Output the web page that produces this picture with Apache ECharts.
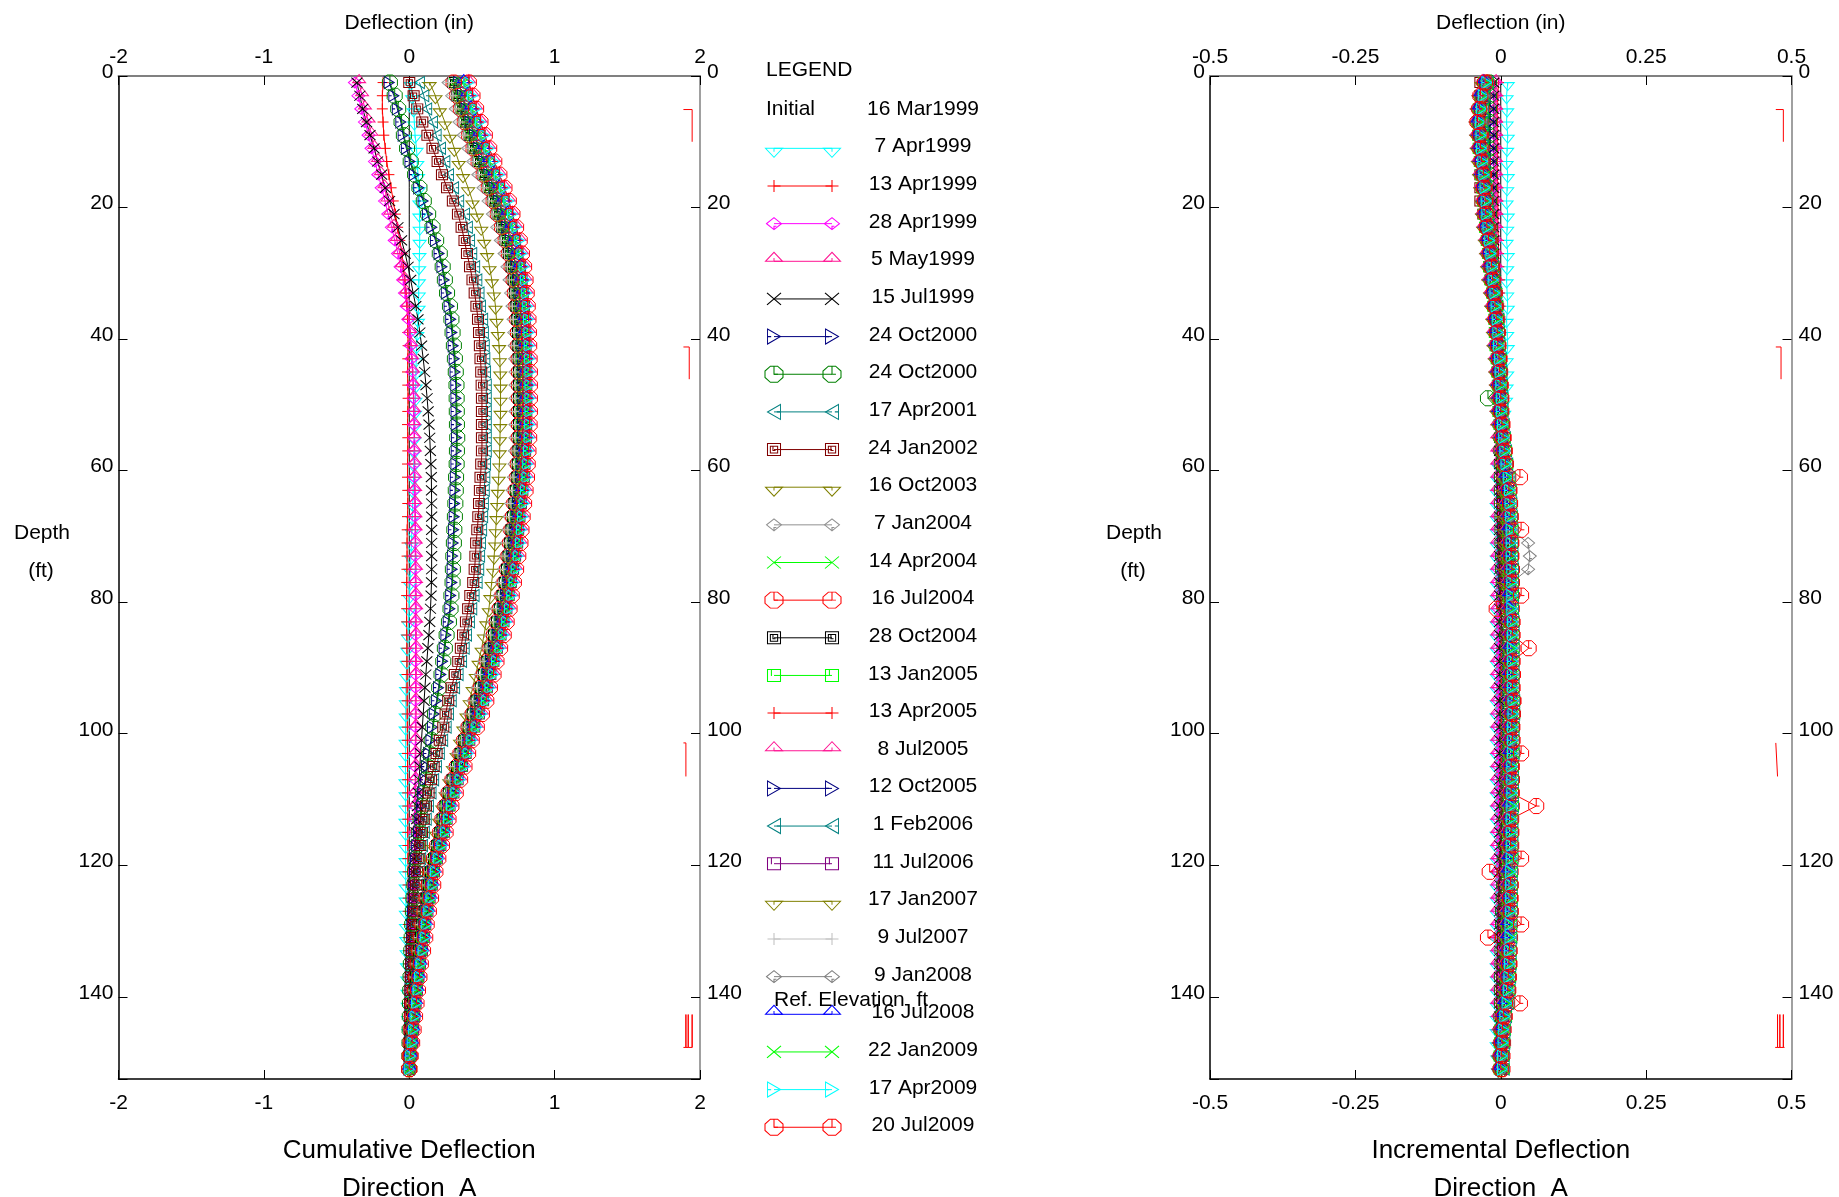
<!DOCTYPE html>
<html><head><meta charset="utf-8">
<script src="https://cdn.jsdelivr.net/npm/echarts@6/dist/echarts.min.js"></script>
<style>html,body{margin:0;padding:0;background:#fff}#c{width:1839px;height:1197px}</style>
</head><body><div id="c"></div>
<script>
// ---------------- DATA ----------------
const depths = [1,3,5,7,9,11,13,15,17,19,
21,23,25,27,29,31,33,35,37,39,
41,43,45,47,49,51,53,55,57,59,
61,63,65,67,69,71,73,75,77,79,
81,83,85,87,89,91,93,95,97,99,
101,103,105,107,109,111,113,115,117,119,
121,123,125,127,129,131,133,135,137,139,
141,143,145,147,149,151];

const initialValues = [0,0,0,0,0,0,0,0,0,0,
0,0,0,0,0,0,0,0,0,0,
0,0,0,0,0,0,0,0,0,0,
0,0,0,0,0,0,0,0,0,0,
0,0,0,0,0,0,0,0,0,0,
0,0,0,0,0,0,0,0,0,0,
0,0,0,0,0,0,0,0,0,0,
0,0,0,0,0,0];

// Cumulative deflection (in)
const cum7Apr1999 = [0.01,0.02,0.03,0.035,0.04,0.05,0.055,0.06,0.065,0.07,
0.07,0.072,0.072,0.07,0.068,0.066,0.065,0.064,0.06,0.055,
0.05,0.048,0.046,0.044,0.042,0.04,0.038,0.036,0.034,0.032,
0.03,0.027,0.024,0.021,0.018,0.015,0.012,0.008,0.005,0.002,
0,-0.005,-0.01,-0.013,-0.017,-0.02,-0.022,-0.023,-0.024,-0.025,
-0.025,-0.025,-0.026,-0.026,-0.025,-0.025,-0.026,-0.025,-0.025,-0.025,
-0.025,-0.024,-0.024,-0.023,-0.022,-0.02,-0.018,-0.016,-0.014,-0.012,
-0.01,-0.008,-0.006,-0.004,-0.002,0];
const cum13Apr1999 = [-0.18,-0.185,-0.185,-0.18,-0.175,-0.165,-0.155,-0.14,-0.125,-0.11,
-0.095,-0.08,-0.065,-0.05,-0.04,-0.03,-0.022,-0.016,-0.012,-0.01,
-0.008,-0.01,-0.012,-0.01,-0.008,-0.01,-0.012,-0.01,-0.01,-0.012,
-0.012,-0.01,-0.01,-0.012,-0.014,-0.015,-0.015,-0.016,-0.017,-0.018,
-0.018,-0.018,-0.017,-0.016,-0.016,-0.015,-0.015,-0.014,-0.014,-0.013,
-0.013,-0.012,-0.012,-0.011,-0.011,-0.01,-0.01,-0.01,-0.009,-0.009,
-0.008,-0.008,-0.007,-0.007,-0.006,-0.006,-0.005,-0.005,-0.004,-0.004,
-0.003,-0.003,-0.002,-0.002,-0.001,0];
const cum28Apr1999 = [-0.374,-0.35,-0.33,-0.305,-0.28,-0.26,-0.236,-0.213,-0.19,-0.167,
-0.145,-0.12,-0.1,-0.078,-0.06,-0.042,-0.03,-0.018,-0.007,0.003,
0.01,0.016,0.022,0.026,0.029,0.03,0.032,0.033,0.034,0.035,
0.036,0.037,0.038,0.039,0.04,0.04,0.041,0.041,0.042,0.042,
0.042,0.042,0.043,0.043,0.043,0.043,0.043,0.042,0.042,0.042,
0.042,0.041,0.041,0.041,0.04,0.04,0.04,0.039,0.039,0.038,
0.038,0.036,0.034,0.032,0.03,0.027,0.024,0.021,0.018,0.015,
0.012,0.01,0.007,0.005,0.002,0];
const cum5May1999 = [-0.345,-0.325,-0.305,-0.28,-0.26,-0.24,-0.215,-0.195,-0.17,-0.15,
-0.13,-0.105,-0.085,-0.065,-0.05,-0.032,-0.02,-0.01,0,0.008,
0.014,0.02,0.025,0.028,0.031,0.033,0.035,0.036,0.037,0.038,
0.039,0.04,0.041,0.042,0.043,0.044,0.045,0.046,0.046,0.047,
0.047,0.047,0.048,0.048,0.048,0.048,0.047,0.047,0.047,0.046,
0.046,0.045,0.045,0.044,0.044,0.043,0.043,0.042,0.041,0.04,
0.039,0.037,0.035,0.033,0.031,0.028,0.025,0.022,0.019,0.016,
0.013,0.01,0.008,0.005,0.002,0];
const cum15Jul1999 = [-0.36,-0.34,-0.32,-0.294,-0.27,-0.242,-0.218,-0.19,-0.165,-0.135,
-0.105,-0.078,-0.053,-0.028,-0.008,0.01,0.027,0.045,0.06,0.073,
0.085,0.096,0.106,0.115,0.123,0.13,0.136,0.141,0.145,0.149,
0.152,0.153,0.154,0.154,0.154,0.154,0.154,0.154,0.153,0.15,
0.146,0.141,0.135,0.128,0.121,0.114,0.108,0.102,0.096,0.09,
0.084,0.078,0.073,0.068,0.062,0.056,0.051,0.046,0.04,0.034,
0.029,0.024,0.019,0.015,0.011,0.008,0.006,0.004,0.003,0.002,
0.002,0.001,0.001,0,0,0];
const cum24Oct2000a = [-0.138,-0.106,-0.082,-0.058,-0.042,-0.02,0.005,0.034,0.065,0.095,
0.125,0.155,0.18,0.205,0.225,0.24,0.255,0.274,0.285,0.293,
0.302,0.309,0.315,0.32,0.321,0.322,0.323,0.325,0.323,0.321,
0.317,0.315,0.312,0.309,0.305,0.302,0.298,0.295,0.293,0.285,
0.279,0.268,0.252,0.24,0.229,0.217,0.201,0.188,0.172,0.16,
0.149,0.133,0.119,0.11,0.092,0.085,0.073,0.064,0.051,0.044,
0.036,0.031,0.027,0.022,0.018,0.015,0.012,0.009,0.007,0.005,
0.004,0.003,0.002,0.001,0,0];
const cum24Oct2000b = [-0.133,-0.1,-0.076,-0.053,-0.037,-0.015,0.01,0.04,0.07,0.1,
0.13,0.16,0.185,0.21,0.23,0.245,0.26,0.28,0.29,0.298,
0.307,0.314,0.32,0.325,0.326,0.327,0.328,0.33,0.328,0.326,
0.322,0.32,0.317,0.314,0.31,0.307,0.303,0.3,0.298,0.29,
0.284,0.273,0.257,0.245,0.234,0.222,0.206,0.193,0.177,0.165,
0.154,0.138,0.124,0.115,0.096,0.09,0.078,0.069,0.055,0.048,
0.04,0.035,0.03,0.025,0.02,0.017,0.014,0.011,0.009,0.007,
0.005,0.004,0.003,0.002,0.001,0];
const cum17Apr2001 = [0.07,0.1,0.12,0.16,0.185,0.215,0.245,0.27,0.305,0.34,
0.38,0.4,0.415,0.43,0.45,0.465,0.48,0.49,0.505,0.51,
0.516,0.52,0.525,0.53,0.53,0.53,0.53,0.53,0.53,0.525,
0.52,0.516,0.51,0.505,0.498,0.49,0.484,0.478,0.467,0.446,
0.43,0.414,0.394,0.378,0.36,0.336,0.312,0.289,0.27,0.254,
0.23,0.207,0.187,0.168,0.15,0.132,0.117,0.104,0.091,0.079,
0.07,0.06,0.052,0.045,0.038,0.032,0.026,0.021,0.017,0.013,
0.01,0.007,0.005,0.003,0.001,0];
const cum24Jan2002 = [0,0.03,0.055,0.09,0.125,0.16,0.195,0.225,0.26,0.3,
0.335,0.36,0.38,0.397,0.418,0.435,0.45,0.462,0.473,0.48,
0.486,0.49,0.495,0.498,0.5,0.5,0.5,0.5,0.5,0.495,
0.49,0.486,0.48,0.475,0.468,0.46,0.455,0.45,0.44,0.42,
0.405,0.39,0.37,0.355,0.337,0.314,0.29,0.268,0.25,0.234,
0.21,0.188,0.168,0.15,0.133,0.115,0.1,0.088,0.076,0.065,
0.055,0.047,0.04,0.034,0.028,0.023,0.018,0.014,0.011,0.008,
0.006,0.004,0.003,0.002,0.001,0];
const cum16Oct2003 = [0.14,0.18,0.21,0.245,0.28,0.31,0.34,0.37,0.405,0.435,
0.465,0.495,0.515,0.535,0.552,0.568,0.582,0.593,0.6,0.61,
0.618,0.623,0.626,0.628,0.628,0.628,0.626,0.624,0.622,0.62,
0.615,0.61,0.605,0.6,0.595,0.59,0.584,0.578,0.567,0.558,
0.548,0.53,0.514,0.498,0.477,0.458,0.436,0.416,0.394,0.372,
0.35,0.326,0.3,0.275,0.25,0.227,0.205,0.185,0.165,0.145,
0.128,0.113,0.1,0.087,0.075,0.064,0.054,0.045,0.037,0.03,
0.024,0.018,0.013,0.008,0.004,0];
// later readings (2004-2009) form a tight bundle; read as five traces across it
const cumBundleL = [0.27,0.295,0.32,0.345,0.375,0.405,0.44,0.475,0.51,0.545,
0.575,0.605,0.63,0.655,0.675,0.69,0.7,0.71,0.717,0.722,
0.725,0.728,0.73,0.73,0.73,0.73,0.73,0.73,0.727,0.724,
0.72,0.71,0.7,0.69,0.68,0.67,0.66,0.65,0.635,0.62,
0.6,0.58,0.56,0.535,0.515,0.49,0.47,0.44,0.415,0.39,
0.36,0.335,0.31,0.28,0.255,0.235,0.215,0.2,0.18,0.16,
0.14,0.125,0.11,0.095,0.08,0.07,0.06,0.05,0.04,0.03,
0.02,0.015,0.01,0.005,0,0];
const cumBundleM1 = [0.305,0.33,0.355,0.382,0.412,0.442,0.477,0.512,0.547,0.58,
0.609,0.638,0.663,0.685,0.704,0.718,0.727,0.737,0.743,0.748,
0.75,0.753,0.755,0.755,0.755,0.755,0.755,0.754,0.751,0.747,
0.743,0.733,0.723,0.713,0.703,0.694,0.683,0.672,0.657,0.642,
0.623,0.603,0.583,0.558,0.537,0.513,0.492,0.463,0.437,0.409,
0.378,0.353,0.328,0.298,0.272,0.249,0.229,0.213,0.192,0.17,
0.15,0.135,0.12,0.105,0.09,0.08,0.069,0.058,0.048,0.038,
0.028,0.022,0.015,0.009,0.003,0];
const cumBundleM2 = [0.34,0.365,0.39,0.418,0.448,0.478,0.513,0.548,0.583,0.615,
0.643,0.67,0.695,0.715,0.733,0.745,0.754,0.763,0.769,0.773,
0.775,0.778,0.78,0.78,0.78,0.78,0.779,0.778,0.774,0.77,
0.765,0.755,0.745,0.735,0.726,0.718,0.705,0.693,0.678,0.663,
0.645,0.625,0.605,0.58,0.558,0.535,0.513,0.485,0.458,0.428,
0.395,0.37,0.345,0.315,0.288,0.263,0.243,0.225,0.203,0.18,
0.16,0.145,0.13,0.115,0.1,0.09,0.078,0.065,0.055,0.045,
0.035,0.028,0.02,0.013,0.005,0];
const cumBundleM3 = [0.375,0.4,0.425,0.454,0.484,0.514,0.549,0.584,0.619,0.65,
0.677,0.703,0.728,0.745,0.762,0.773,0.781,0.789,0.795,0.798,
0.8,0.803,0.805,0.805,0.805,0.805,0.804,0.802,0.797,0.793,
0.788,0.778,0.768,0.758,0.749,0.742,0.728,0.714,0.699,0.684,
0.668,0.648,0.628,0.603,0.579,0.558,0.534,0.508,0.479,0.447,
0.413,0.388,0.363,0.333,0.304,0.277,0.257,0.238,0.214,0.19,
0.17,0.155,0.14,0.125,0.11,0.1,0.087,0.073,0.063,0.053,
0.043,0.034,0.025,0.017,0.008,0];
const cumBundleH = [0.41,0.435,0.46,0.49,0.52,0.55,0.585,0.62,0.655,0.685,
0.71,0.735,0.76,0.775,0.79,0.8,0.808,0.815,0.82,0.823,
0.825,0.828,0.83,0.83,0.83,0.83,0.828,0.825,0.82,0.815,
0.81,0.8,0.79,0.78,0.772,0.765,0.75,0.735,0.72,0.705,
0.69,0.67,0.65,0.625,0.6,0.58,0.555,0.53,0.5,0.465,
0.43,0.405,0.38,0.35,0.32,0.29,0.27,0.25,0.225,0.2,
0.18,0.165,0.15,0.135,0.12,0.11,0.095,0.08,0.07,0.06,
0.05,0.04,0.03,0.02,0.01,0];

// Incremental deflection (in)
const inc7Apr1999 = [0.012,0.01,0.011,0.01,0.012,0.011,0.01,0.012,0.011,0.01,
0.012,0.011,0.01,0.012,0.011,0.01,0.011,0.012,0.01,0.011,
0.012,0.01,0.011,0.01,0.009,0.006,0.003,0,-0.003,-0.005,
-0.006,-0.007,-0.007,-0.007,-0.007,-0.007,-0.007,-0.007,-0.007,-0.007,
-0.007,-0.007,-0.007,-0.007,-0.007,-0.007,-0.007,-0.007,-0.007,-0.007,
-0.007,-0.007,-0.007,-0.007,-0.007,-0.007,-0.007,-0.007,-0.007,-0.007,
-0.007,-0.007,-0.007,-0.007,-0.007,-0.007,-0.007,-0.007,-0.007,-0.007,
-0.007,-0.007,-0.007,-0.007,-0.006,-0.005];
const inc13Apr1999 = [-0.004,-0.005,-0.006,-0.006,-0.006,-0.005,-0.006,-0.006,-0.005,-0.005,
-0.005,-0.005,-0.004,-0.004,-0.003,-0.002,-0.002,-0.001,-0.001,0,
0,0.001,0.001,0.001,0.001,0.001,0.001,0.001,0.001,0.001,
0.001,0.001,0.001,0.001,0.001,0.001,0.001,0.001,0.001,0.001,
0.001,0.001,0.001,0.001,0.001,0.001,0.001,0.001,0.001,0.001,
0.001,0.001,0.001,0.001,0.001,0.001,0.001,0.001,0.001,0.001,
0.001,0.001,0.001,0.001,0.001,0.001,0.001,0.001,0.001,0.001,
0.001,0.001,0.001,0.001,0.001,0];
const inc28Apr1999 = [-0.01,-0.01,-0.01,-0.01,-0.01,-0.01,-0.01,-0.01,-0.01,-0.01,
-0.01,-0.01,-0.01,-0.01,-0.01,-0.01,-0.008,-0.007,-0.007,-0.007,
-0.007,-0.007,-0.007,-0.007,-0.007,-0.005,-0.004,-0.004,-0.004,-0.004,
-0.004,-0.004,-0.004,-0.004,-0.004,-0.004,-0.004,-0.004,-0.004,-0.004,
-0.004,-0.004,-0.004,-0.004,-0.004,-0.004,-0.004,-0.004,-0.004,-0.004,
-0.004,-0.004,-0.004,-0.004,-0.004,-0.004,-0.004,-0.004,-0.004,-0.004,
-0.004,-0.004,-0.004,-0.004,-0.004,-0.004,-0.004,-0.004,-0.004,-0.004,
-0.004,-0.004,-0.003,-0.002,-0.001,0];
const inc5May1999 = [-0.008,-0.008,-0.008,-0.008,-0.008,-0.008,-0.008,-0.008,-0.008,-0.008,
-0.008,-0.008,-0.008,-0.008,-0.008,-0.008,-0.007,-0.006,-0.006,-0.006,
-0.006,-0.006,-0.006,-0.006,-0.006,-0.006,-0.006,-0.006,-0.006,-0.006,
-0.006,-0.006,-0.006,-0.006,-0.006,-0.006,-0.006,-0.006,-0.006,-0.006,
-0.006,-0.006,-0.006,-0.006,-0.006,-0.006,-0.006,-0.006,-0.006,-0.006,
-0.006,-0.006,-0.006,-0.006,-0.006,-0.006,-0.006,-0.006,-0.006,-0.006,
-0.006,-0.006,-0.006,-0.006,-0.006,-0.006,-0.006,-0.006,-0.006,-0.006,
-0.006,-0.005,-0.004,-0.003,-0.002,0];
const inc15Jul1999 = [-0.012,-0.012,-0.012,-0.012,-0.012,-0.012,-0.012,-0.012,-0.012,-0.012,
-0.012,-0.012,-0.012,-0.012,-0.012,-0.009,-0.007,-0.006,-0.005,-0.004,
-0.003,-0.003,-0.003,-0.002,-0.002,-0.002,-0.002,-0.002,-0.002,-0.002,
-0.002,-0.002,-0.002,-0.002,-0.002,-0.002,-0.002,-0.002,-0.002,-0.002,
-0.002,-0.002,-0.002,-0.002,-0.002,-0.002,-0.002,-0.002,-0.002,-0.002,
-0.002,-0.002,-0.002,-0.002,-0.002,-0.002,-0.002,-0.002,-0.002,-0.002,
-0.002,-0.002,-0.002,-0.002,-0.002,-0.002,-0.002,-0.002,-0.002,-0.002,
-0.002,-0.002,-0.001,-0.001,0,0];
const inc24Oct2000a = [-0.018,-0.018,-0.018,-0.018,-0.018,-0.018,-0.018,-0.018,-0.018,-0.018,
-0.018,-0.018,-0.017,-0.016,-0.015,-0.013,-0.011,-0.009,-0.007,-0.006,
-0.005,-0.004,-0.003,-0.002,-0.001,-0.001,0,0.001,0.001,0.002,
0.002,0.002,0.002,0.003,0.003,0.003,0.004,0.004,0.005,0.006,
0.008,0.01,0.011,0.012,0.012,0.012,0.012,0.012,0.012,0.012,
0.012,0.012,0.012,0.011,0.011,0.011,0.01,0.01,0.009,0.008,
0.007,0.006,0.005,0.004,0.004,0.003,0.003,0.003,0.002,0.002,
0.002,0.001,0.001,0.001,0,0];
const inc24Oct2000b = [-0.02,-0.02,-0.02,-0.02,-0.02,-0.02,-0.02,-0.02,-0.02,-0.02,
-0.02,-0.019,-0.018,-0.017,-0.016,-0.014,-0.012,-0.01,-0.008,-0.006,
-0.005,-0.004,-0.003,-0.002,-0.022,-0.001,0,0.001,0.001,0.002,
0.002,0.002,0.002,0.003,0.003,0.003,0.004,0.004,0.005,0.006,
0.008,0.01,0.011,0.012,0.012,0.012,0.012,0.012,0.012,0.012,
0.012,0.012,0.012,0.011,0.011,0.011,0.01,0.01,0.009,0.008,
0.007,0.006,0.005,0.004,0.004,0.003,0.003,0.003,0.002,0.002,
0.002,0.001,0.001,0.001,0,0];
const inc17Apr2001 = [-0.03,-0.03,-0.03,-0.03,-0.03,-0.03,-0.03,-0.03,-0.03,-0.03,
-0.027,-0.024,-0.02,-0.018,-0.017,-0.014,-0.012,-0.01,-0.008,-0.007,
-0.005,-0.004,-0.003,-0.002,-0.001,0,0,0.001,0.001,0.002,
0.003,0.003,0.004,0.004,0.005,0.005,0.006,0.007,0.008,0.009,
0.01,0.011,0.012,0.013,0.014,0.015,0.015,0.016,0.016,0.016,
0.015,0.015,0.014,0.013,0.012,0.011,0.01,0.009,0.008,0.007,
0.007,0.006,0.005,0.005,0.004,0.004,0.003,0.003,0.003,0.002,
0.002,0.001,0.001,0.001,0,0];
const inc24Jan2002 = [-0.035,-0.035,-0.035,-0.035,-0.035,-0.035,-0.035,-0.035,-0.035,-0.035,
-0.03,-0.026,-0.022,-0.02,-0.02,-0.016,-0.013,-0.011,-0.01,-0.01,
-0.006,-0.004,-0.003,-0.002,-0.002,-0.001,0,0,0.001,0.002,
0.003,0.004,0.004,0.004,0.005,0.005,0.006,0.007,0.008,0.009,
0.01,0.011,0.013,0.014,0.015,0.015,0.016,0.016,0.016,0.016,
0.015,0.015,0.014,0.014,0.013,0.012,0.011,0.01,0.009,0.008,
0.007,0.006,0.006,0.005,0.005,0.004,0.004,0.003,0.003,0.002,
0.002,0.001,0.001,0.001,0,0];
const inc16Oct2003 = [-0.033,-0.033,-0.033,-0.033,-0.033,-0.033,-0.033,-0.033,-0.033,-0.033,
-0.025,-0.022,-0.021,-0.02,-0.018,-0.015,-0.012,-0.01,-0.009,-0.008,
-0.004,-0.002,-0.001,0,0,0,0.001,0.001,0.001,0.002,
0.003,0.003,0.004,0.004,0.005,0.005,0.005,0.006,0.006,0.007,
0.012,0.014,0.015,0.016,0.017,0.018,0.018,0.018,0.018,0.018,
0.018,0.018,0.018,0.017,0.017,0.016,0.016,0.015,0.014,0.013,
0.011,0.01,0.009,0.008,0.008,0.007,0.006,0.006,0.005,0.005,
0.004,0.003,0.003,0.002,0.001,0];
const incBundleL = [-0.032,-0.038,-0.041,-0.043,-0.042,-0.041,-0.039,-0.037,-0.035,-0.033,
-0.032,-0.03,-0.027,-0.025,-0.023,-0.021,-0.018,-0.016,-0.014,-0.013,
-0.012,-0.01,-0.009,-0.008,-0.007,-0.007,-0.005,-0.003,-0.001,0.001,
0.005,0.007,0.008,0.009,0.01,0.01,0.01,0.011,0.011,0.011,
0.011,0.012,0.012,0.012,0.012,0.012,0.012,0.013,0.013,0.012,
0.012,0.012,0.011,0.011,0.011,0.011,0.01,0.01,0.01,0.01,
0.009,0.009,0.009,0.009,0.008,0.008,0.007,0.007,0.006,0.005,
0.003,0,-0.002,-0.003,-0.004,-0.004];
const incBundleM1 = [-0.029,-0.035,-0.038,-0.04,-0.039,-0.038,-0.036,-0.034,-0.032,-0.03,
-0.029,-0.027,-0.024,-0.022,-0.02,-0.018,-0.015,-0.013,-0.011,-0.01,
-0.009,-0.007,-0.006,-0.005,-0.004,-0.004,-0.002,0,0.002,0.004,
0.008,0.01,0.011,0.012,0.013,0.013,0.013,0.014,0.014,0.014,
0.014,0.015,0.015,0.015,0.015,0.015,0.015,0.016,0.016,0.015,
0.015,0.015,0.014,0.014,0.014,0.014,0.013,0.013,0.013,0.013,
0.012,0.012,0.012,0.012,0.011,0.011,0.01,0.01,0.009,0.008,
0.006,0.002,0,-0.001,-0.002,-0.002];
const incBundleM2 = [-0.027,-0.033,-0.036,-0.038,-0.037,-0.036,-0.034,-0.032,-0.03,-0.028,
-0.027,-0.025,-0.022,-0.02,-0.018,-0.016,-0.013,-0.011,-0.009,-0.008,
-0.007,-0.005,-0.004,-0.003,-0.002,-0.002,0,0.002,0.004,0.006,
0.01,0.012,0.013,0.014,0.015,0.015,0.015,0.016,0.016,0.016,
0.016,0.017,0.017,0.017,0.017,0.017,0.017,0.018,0.018,0.017,
0.017,0.017,0.016,0.016,0.016,0.016,0.015,0.015,0.015,0.015,
0.014,0.014,0.014,0.014,0.013,0.013,0.012,0.012,0.011,0.01,
0.008,0.004,0.002,0.001,0,0];
const incBundleM3 = [-0.024,-0.03,-0.033,-0.035,-0.034,-0.033,-0.031,-0.029,-0.027,-0.025,
-0.024,-0.022,-0.019,-0.017,-0.015,-0.013,-0.01,-0.008,-0.006,-0.005,
-0.004,-0.002,-0.001,0,0.001,0.001,0.003,0.005,0.007,0.009,
0.013,0.015,0.016,0.017,0.018,0.018,0.018,0.019,0.019,0.019,
0.019,0.02,0.02,0.02,0.02,0.02,0.02,0.021,0.021,0.02,
0.02,0.02,0.019,0.019,0.019,0.019,0.018,0.018,0.018,0.018,
0.017,0.017,0.017,0.017,0.016,0.016,0.015,0.015,0.014,0.013,
0.011,0.007,0.005,0.004,0.003,0.003];
const incBundleH = [-0.021,-0.027,-0.03,-0.032,-0.031,-0.03,-0.028,-0.026,-0.024,-0.022,
-0.021,-0.019,-0.016,-0.014,-0.012,-0.01,-0.007,-0.005,-0.003,-0.002,
-0.001,0.001,0.002,0.003,0.004,0.004,0.006,0.008,0.01,0.012,
0.016,0.018,0.019,0.02,0.021,0.021,0.021,0.022,0.022,0.022,
0.022,0.023,0.023,0.023,0.023,0.023,0.023,0.024,0.024,0.023,
0.023,0.023,0.022,0.022,0.022,0.022,0.021,0.021,0.021,0.021,
0.02,0.02,0.02,0.02,0.019,0.019,0.018,0.018,0.017,0.016,
0.014,0.01,0.008,0.007,0.006,0.006];
const inc9Jan2008 = [-0.024,-0.03,-0.033,-0.035,-0.034,-0.033,-0.031,-0.029,-0.027,-0.025,
-0.024,-0.022,-0.019,-0.017,-0.015,-0.013,-0.01,-0.008,-0.006,-0.005,
-0.004,-0.002,-0.001,0,0.001,0.001,0.003,0.005,0.007,0.009,
0.013,0.015,0.016,0.017,0.018,0.047,0.05,0.047,0.019,0.019,
0.019,0.02,0.02,0.02,0.02,0.02,0.02,0.021,0.021,0.02,
0.02,0.02,0.019,0.019,0.019,0.019,0.018,0.018,0.018,0.018,
0.017,0.017,0.017,0.017,0.016,0.016,0.015,0.015,0.014,0.013,
0.011,0.007,0.005,0.004,0.003,0.003];
const inc20Jul2009 = [-0.027,-0.035,-0.037,-0.04,-0.036,-0.035,-0.033,-0.03,-0.029,-0.027,
-0.026,-0.024,-0.021,-0.019,-0.016,-0.014,-0.012,-0.01,-0.008,-0.006,
-0.005,-0.003,-0.002,-0.001,0,0,0.002,0.004,0.006,0.008,
0.033,0.014,0.016,0.017,0.035,0.018,0.018,0.019,0.019,0.035,
-0.007,0.02,0.02,0.048,0.02,0.021,0.02,0.022,0.02,0.019,
0.02,0.035,0.018,0.019,0.018,0.061,0.017,0.018,0.017,0.035,
-0.019,0.017,0.016,0.017,0.035,-0.022,0.015,0.014,0.013,0.012,
0.033,0.005,0.003,0.002,0.001,0];

// Reference-elevation marks drawn near the right edge of each plot: [deflection, depth]
const refMarksCum = [
  [[1.886,5.1],[1.946,5.1],[1.946,10]],
  [[1.886,41.2],[1.926,41.2],[1.926,46.1]],
  [[1.886,101.4],[1.903,101.4],[1.903,106.5]],
  [[1.886,147.7],[1.903,147.7],[1.903,142.7],[1.903,147.7],[1.919,147.7],[1.919,142.7],[1.919,147.7],[1.946,147.7],[1.946,142.7],[1.946,147.7],[1.95,147.7]]
];
const refMarksInc = [
  [[0.473,5.1],[0.486,5.1],[0.486,10]],
  [[0.473,41.2],[0.482,41.2],[0.482,46.1]],
  [[0.473,101.4],[0.476,101.4],[0.476,106.5]],
  [[0.472,147.7],[0.476,147.7],[0.476,142.7],[0.476,147.7],[0.48,147.7],[0.48,142.7],[0.48,147.7],[0.486,147.7],[0.486,142.7],[0.486,147.7],[0.488,147.7]]
];

const depthTicks = [0,20,40,60,80,100,120,140];

const initialLabel = '16 Mar1999';
const readings = [
 {name:'7 Apr1999',  sym:'triDown',  color:'#00ffff', cum:cum7Apr1999,  inc:inc7Apr1999},
 {name:'13 Apr1999', sym:'plus',     color:'#ff0000', cum:cum13Apr1999, inc:inc13Apr1999},
 {name:'28 Apr1999', sym:'diamond',  color:'#ff00ff', cum:cum28Apr1999, inc:inc28Apr1999},
 {name:'5 May1999',  sym:'triUp',    color:'#ff1493', cum:cum5May1999,  inc:inc5May1999},
 {name:'15 Jul1999', sym:'cross',    color:'#000000', cum:cum15Jul1999, inc:inc15Jul1999},
 {name:'24 Oct2000', sym:'triRight', color:'#000080', cum:cum24Oct2000a, inc:inc24Oct2000a},
 {name:'24 Oct2000', sym:'octagon',  color:'#008000', cum:cum24Oct2000b, inc:inc24Oct2000b},
 {name:'17 Apr2001', sym:'triLeft',  color:'#008080', cum:cum17Apr2001, inc:inc17Apr2001},
 {name:'24 Jan2002', sym:'squareIn', color:'#800000', cum:cum24Jan2002, inc:inc24Jan2002},
 {name:'16 Oct2003', sym:'triDown',  color:'#808000', cum:cum16Oct2003, inc:inc16Oct2003},
 {name:'7 Jan2004',  sym:'diamond',  color:'#909090', cum:cumBundleL,  inc:incBundleL},
 {name:'14 Apr2004', sym:'cross',    color:'#00ff00', cum:cumBundleM1, inc:incBundleM1},
 {name:'16 Jul2004', sym:'octagon',  color:'#ff0000', cum:cumBundleM1, inc:incBundleM3},
 {name:'28 Oct2004', sym:'squareIn', color:'#000000', cum:cumBundleM1, inc:incBundleM2},
 {name:'13 Jan2005', sym:'square',   color:'#00ff00', cum:cumBundleM2, inc:incBundleM1},
 {name:'13 Apr2005', sym:'plus',     color:'#ff0000', cum:cumBundleM2, inc:incBundleM2},
 {name:'8 Jul2005',  sym:'triUp',    color:'#ff1493', cum:cumBundleH,  inc:incBundleL},
 {name:'12 Oct2005', sym:'triRight', color:'#000080', cum:cumBundleM2, inc:incBundleM3},
 {name:'1 Feb2006',  sym:'triLeft',  color:'#008080', cum:cumBundleM2, inc:incBundleH},
 {name:'11 Jul2006', sym:'square',   color:'#800080', cum:cumBundleM3, inc:incBundleM2},
 {name:'17 Jan2007', sym:'triDown',  color:'#808000', cum:cumBundleM1, inc:incBundleL},
 {name:'9 Jul2007',  sym:'plus',     color:'#c0c0c0', cum:cumBundleL,  inc:incBundleM2},
 {name:'9 Jan2008',  sym:'diamond',  color:'#808080', cum:cumBundleM3, inc:inc9Jan2008},
 {name:'16 Jul2008', sym:'triUp',    color:'#0000ff', cum:cumBundleM3, inc:incBundleM1},
 {name:'22 Jan2009', sym:'cross',    color:'#00ff00', cum:cumBundleM3, inc:incBundleH},
 {name:'17 Apr2009', sym:'triRight', color:'#00ffff', cum:cumBundleH,  inc:incBundleM3},
 {name:'20 Jul2009', sym:'octagon',  color:'#ff0000', cum:cumBundleH,  inc:inc20Jul2009}
];

// ---------------- STYLE ----------------
const FONT = "'Liberation Sans', Arial, Helvetica, sans-serif";
const SYM = {
  triDown: 'path://M0,0L100,0L50,60ZM50,0L50,22M50,-60',
  triUp: 'path://M0,0L100,0L50,-60ZM50,0L50,-22M50,60',
  triRight: 'path://M0,0L85,50L0,100ZM0,50L24,50',
  triLeft: 'path://M85,0L0,50L85,100ZM85,50L61,50',
  octagon: 'path://M30,0L70,0L100,30L100,70L70,100L30,100L0,70L0,30ZM50,0L50,50L72,50',
  diamond: 'path://M0,50L50,0L100,50L50,100ZM50,100L50,72L66,72',
  squareIn: 'path://M0,0L100,0L100,100L0,100ZM22,22L78,22L78,78L22,78ZM42,22L42,58L62,58',
  square: 'path://M0,0L100,0L100,100L0,100ZM30,0L30,55',
  plus: 'path://M50,0L50,100M0,50L100,50',
  cross: 'path://M0,0L100,100M100,0L0,100'
};
const SIZE = {triDown:[13,16], triUp:[13,16], triRight:[10,12], triLeft:[10,12], octagon:[15,15],
  diamond:[13,11], squareIn:[11,10], square:[11,10], plus:[11,11], cross:[11,10]};
const LSIZE = {triDown:[17,18], triUp:[17,18], triRight:[13,15], triLeft:[13,15], octagon:[18,16],
  diamond:[15,12], squareIn:[13,12], square:[13,12], plus:[13,12], cross:[14,12]};

// layout (px)
const L = {cumLeft:118.5, incLeft:1210, plotW:581.5, top:76, plotH:1003,
  legX:774, legW:58, legGridTop:110.7, legText0:109, legStep:37.65, legTextX:923};

function lineSeries(values, color, sym, xi, yi, sizeMap) {
  return {
    type:'line', xAxisIndex:xi, yAxisIndex:yi,
    data: depths.map((d,i)=>[values[i], d]),
    symbol: sym ? SYM[sym] : 'none', symbolSize: sym ? sizeMap[sym] : 0,
    showSymbol: !!sym, showAllSymbol: true,
    lineStyle:{color:color, width:1},
    itemStyle:{color:'rgba(0,0,0,0)', borderColor:color, borderWidth:1},
    silent:true, animation:false, clip:false, emphasis:{disabled:true}
  };
}
function markSeries(pts, xi, yi) {
  return {type:'line', xAxisIndex:xi, yAxisIndex:yi, data:pts, symbol:'none',
    lineStyle:{color:'#ff0000', width:1}, silent:true, animation:false, clip:false};
}
function xAx(grid, pos, min, max, interval, lc, lw, margin) {
  return {type:'value', gridIndex:grid, position:pos, min:min, max:max, interval:interval,
    axisLine:{show:true, onZero:false, lineStyle:{color:lc, width:lw}},
    axisTick:{show:true, inside:true, length:9, lineStyle:{color:'#000', width:1}},
    axisLabel:{show:true, margin:margin, fontSize:21, color:'#000', fontFamily:FONT, formatter:v=>String(v)},
    splitLine:{show:false}};
}
function yAx(grid, pos, lc, lw, margin) {
  return {type:'value', gridIndex:grid, position:pos, inverse:true, min:0, max:152.5, interval:20,
    axisLine:{show:true, onZero:false, lineStyle:{color:lc, width:lw}},
    axisTick:{show:true, inside:true, length:9, lineStyle:{color:'#000', width:1}},
    axisLabel:{show:true, margin:margin, fontSize:21, color:'#000', fontFamily:FONT,
      verticalAlign:'bottom', lineHeight:8,
      formatter:v=> depthTicks.indexOf(v) >= 0 ? String(v) : ''},
    splitLine:{show:false}};
}
function txt(x, y, s, size, align) {
  return {type:'text', x:x, y:y, silent:true, z:100,
    style:{text:s, fontSize:size, fontFamily:FONT, fill:'#000',
      align:align||'center', verticalAlign:'middle', textAlign:align||'center', textVerticalAlign:'middle'}};
}

// ---------------- BUILD ----------------
const series = [];
series.push(lineSeries(initialValues, '#000000', null, 0, 0));
series.push(lineSeries(initialValues, '#000000', null, 2, 2));
readings.forEach(r => {
  series.push(lineSeries(r.cum, r.color, r.sym, 0, 0, SIZE));
  series.push(lineSeries(r.inc, r.color, r.sym, 2, 2, SIZE));
});
refMarksCum.forEach(m => series.push(markSeries(m, 0, 0)));
refMarksInc.forEach(m => series.push(markSeries(m, 2, 2)));
// legend keys, one row per reading
readings.forEach((r, k) => {
  series.push({type:'line', xAxisIndex:4, yAxisIndex:4, data:[[0,k+1],[1,k+1]],
    symbol:SYM[r.sym], symbolSize:LSIZE[r.sym], showSymbol:true,
    lineStyle:{color:r.color, width:1},
    itemStyle:{color:'rgba(0,0,0,0)', borderColor:r.color, borderWidth:1},
    silent:true, animation:false, clip:false});
});

const graphic = [
  txt(L.cumLeft + L.plotW/2, 23, 'Deflection (in)', 21),
  txt(L.incLeft + L.plotW/2, 23, 'Deflection (in)', 21),
  txt(42, 533.5, 'Depth', 21), txt(41, 571.5, '(ft)', 21),
  txt(1134, 533.5, 'Depth', 21), txt(1133, 571.5, '(ft)', 21),
  txt(L.cumLeft + L.plotW/2, 1151, 'Cumulative Deflection', 26),
  txt(L.cumLeft + L.plotW/2, 1189, 'Direction  A', 26),
  txt(L.incLeft + L.plotW/2, 1151, 'Incremental Deflection', 26),
  txt(L.incLeft + L.plotW/2, 1189, 'Direction  A', 26),
  txt(766, 70.5, 'LEGEND', 21, 'left'),
  txt(766, L.legText0, 'Initial', 21, 'left'),
  txt(L.legTextX, L.legText0, initialLabel, 21),
  txt(774, 1000.5, 'Ref. Elevation  ft', 21, 'left')
];
readings.forEach((r,k) => graphic.push(txt(L.legTextX, L.legText0 + L.legStep*(k+1), r.name, 21)));

// length sanity check
const chk = {depths, initialValues};
readings.forEach(r => { chk[r.name+'c'+r.sym] = r.cum; chk[r.name+'i'+r.sym] = r.inc; });
const bad = Object.keys(chk).filter(k => chk[k].length !== depths.length);
if (bad.length) graphic.push({type:'text', x:10, y:1190, style:{text:'LEN ERR '+bad.join(','), fill:'red', fontSize:14}});

const option = {
  backgroundColor:'#ffffff',
  animation:false,
  grid:[
    {left:L.cumLeft, top:L.top, width:L.plotW, height:L.plotH, show:false},
    {left:L.incLeft, top:L.top, width:L.plotW, height:L.plotH, show:false},
    {left:L.legX, top:L.legGridTop, width:L.legW, height:L.legStep*27, show:false}
  ],
  xAxis:[
    xAx(0,'bottom',-2,2,1,'#000',1.5,14),
    xAx(0,'top',-2,2,1,'#808080',2,8),
    xAx(1,'bottom',-0.5,0.5,0.25,'#000',1.5,14),
    xAx(1,'top',-0.5,0.5,0.25,'#808080',2,8),
    {type:'value', gridIndex:2, min:0, max:1, show:false}
  ],
  yAxis:[
    yAx(0,'left','#000',1.5,5),
    yAx(0,'right','#808080',1.5,7),
    yAx(1,'left','#000',1.5,5),
    yAx(1,'right','#808080',1.5,7),
    {type:'value', gridIndex:2, min:0, max:27, inverse:true, show:false}
  ],
  series: series,
  graphic: graphic
};
const chart = echarts.init(document.getElementById('c'), null, {renderer:'canvas'});
chart.setOption(option);
</script>
</body></html>
